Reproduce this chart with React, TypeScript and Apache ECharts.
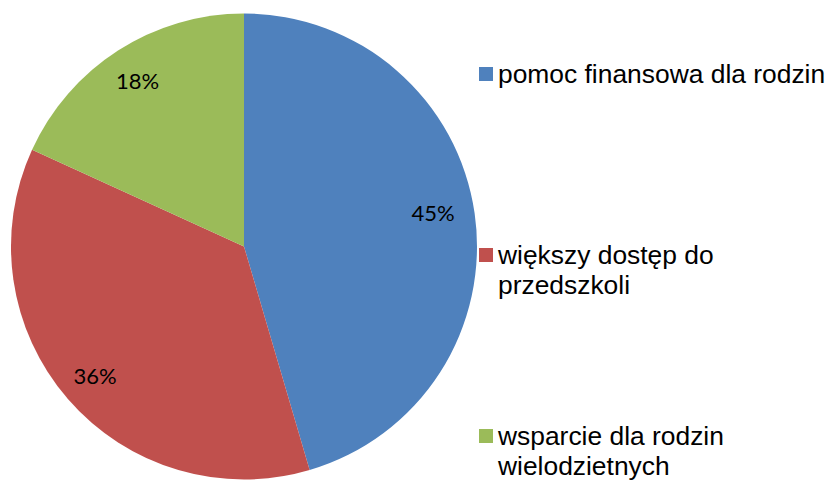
import React, { useEffect, useRef } from "react";
import * as echarts from "echarts";

const categories = [
  "pomoc finansowa dla rodzin",
  "większy dostęp do przedszkoli",
  "wsparcie dla rodzin wielodzietnych",
];
const legendLabels = [
  "pomoc finansowa dla rodzin",
  "\nwiększy dostęp do\nprzedszkoli",
  "\nwsparcie dla rodzin\nwielodzietnych",
];
const values = [45, 36, 18];
const colors = ["#4F81BD", "#C0504D", "#9BBB59"];

export default function App() {
  const ref = useRef<HTMLDivElement>(null);
  useEffect(() => {
    if (!ref.current) return;
    const chart = echarts.init(ref.current, null, { renderer: "svg" });
    const data = categories.map((name, i) => ({
      name,
      value: values[i],
      itemStyle: { color: colors[i] },
    }));
    const legendTops = [59, 210, 391];
    const legends = categories.map((name, i) => ({
      data: [name],
      orient: "vertical",
      left: 479,
      top: legendTops[i],
      padding: 0,
      itemWidth: 14,
      itemHeight: 14,
      icon: "rect",
      selectedMode: false,
      formatter: () => legendLabels[i],
      textStyle: {
        fontFamily: "Liberation Sans, Arial, sans-serif",
        fontSize: 26.4,
        lineHeight: 30,
        color: "#000",
      },
    }));
    chart.setOption({
      animation: false,
      backgroundColor: "#fff",
      legend: legends,
      series: [
        {
          type: "pie",
          center: [244, 246.5],
          radius: [0, 233],
          startAngle: 90,
          clockwise: true,
          silent: true,
          label: { show: false },
          labelLine: { show: false },
          itemStyle: { borderWidth: 0 },
          data,
        },
        {
          type: "pie",
          center: [244, 246.5],
          radius: [155, 233],
          startAngle: 90,
          clockwise: true,
          silent: true,
          legendHoverLink: false,
          itemStyle: { color: "rgba(0,0,0,0)", borderWidth: 0 },
          labelLine: { show: false },
          label: {
            show: true,
            position: "inside",
            formatter: (p: any) => `${p.value}%`,
            fontFamily: "Lato, sans-serif",
            fontSize: 22,
            color: "#000",
          },
          labelLayout: (p: any) =>
            p.dataIndex === 0 ? { dx: -6, dy: -6 } : {},
          data: categories.map((name, i) => ({ name: name + " ", value: values[i] })),
        },
      ],
    });
    return () => chart.dispose();
  }, []);
  return (
    <div
      ref={ref}
      style={{ position: "fixed", left: 0, top: 0, width: 829, height: 480 }}
    />
  );
}
